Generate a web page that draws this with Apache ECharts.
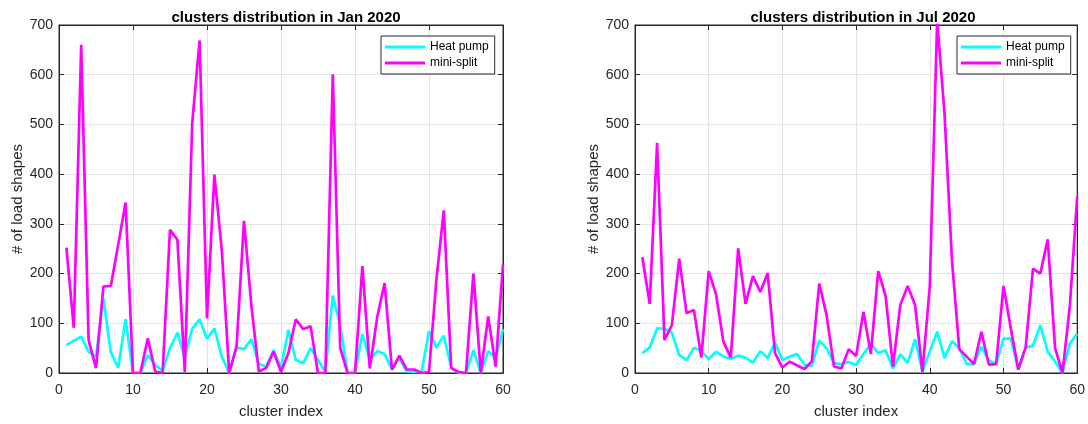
<!DOCTYPE html>
<html>
<head>
<meta charset="utf-8">
<script src="https://cdn.jsdelivr.net/npm/echarts@6/dist/echarts.min.js"></script>
<style>
html,body{margin:0;padding:0;background:#fff;}
#c{width:1088px;height:424px;}
</style>
</head>
<body>
<div id="c"></div>
<script>
var clusterIndex = [1,2,3,4,5,6,7,8,9,10,11,12,13,14,15,16,17,18,19,20,21,22,23,24,25,26,27,28,29,30,31,32,33,34,35,36,37,38,39,40,41,42,43,44,45,46,47,48,49,50,51,52,53,54,55,56,57,58,59,60];

var janHeatPump = [56,65,73,43,33,150,42,10,108,0,0,36,16,5,50,81,30,89,108,69,90,33,0,51,48,68,18,13,46,10,87,26,20,50,26,2,156,95,0,0,78,26,44,38,7,30,3,2,2,84,51,75,11,0,0,46,0,44,30,88];
var janMiniSplit = [252,91,660,66,10,174,175,258,343,0,0,70,3,0,288,268,2,502,669,110,399,247,0,54,306,135,3,10,43,2,40,108,88,94,0,0,601,50,0,0,215,9,112,181,7,35,7,7,0,2,188,327,10,2,0,200,0,114,13,218];

var julHeatPump = [40,51,90,89,81,36,26,51,44,28,43,33,28,35,31,21,44,30,61,26,33,38,16,15,65,50,20,18,22,16,38,59,40,46,9,38,20,68,3,43,83,30,64,50,18,18,53,26,18,69,69,7,51,55,96,43,23,0,59,79];
var julMiniSplit = [233,139,463,66,96,230,120,127,31,205,158,63,31,251,139,195,163,201,40,11,23,15,8,24,180,116,13,9,48,34,123,38,205,155,13,137,175,137,2,175,710,521,228,48,33,18,83,17,18,175,89,7,51,210,200,269,50,0,135,355];

var titles = ['clusters distribution in Jan 2020', 'clusters distribution in Jul 2020'];
var xTicks = [0,10,20,30,40,50,60];
var yTicks = [0,100,200,300,400,500,600,700];

function pairs(vals){ return clusterIndex.map(function(x,i){ return [x, vals[i]]; }); }

var axisColor = '#262626';
var fontFam = '"Liberation Sans", Arial, Helvetica, sans-serif';
var gridsPos = [{left:59, width:444}, {left:635, width:446}];
var plotTop = 25, plotHeight = 353;

var option = {
  animation:false,
  textStyle:{fontFamily:fontFam},
  title: gridsPos.map(function(g,k){
    return {text:titles[k], left:g.left+g.width/2, top:5, textAlign:'center',
      textStyle:{fontSize:15, fontWeight:'bold', color:'#000', fontFamily:fontFam}};
  }),
  grid: gridsPos.map(function(g){
    return {left:g.left, width:g.width, top:plotTop, height:plotHeight, show:true, borderColor:axisColor, borderWidth:1, backgroundColor:'#fff'};
  }),
  legend: gridsPos.map(function(g,k){
    return {orient:'vertical', left: (k===0?381:957), top:36, padding:[4,6,4,4], itemGap:2,
      itemWidth:40, itemHeight:3, icon:'rect', borderColor:axisColor, borderWidth:1, backgroundColor:'#fff',
      textStyle:{fontSize:12, lineHeight:14, color:'#000', fontFamily:fontFam}, itemStyle:{borderWidth:0},
      data:['Heat pump','mini-split']};
  }),
  xAxis: [], yAxis: [], series: []
};

[0,1].forEach(function(k){
  option.xAxis.push({type:'value', gridIndex:k, min:xTicks[0], max:xTicks[xTicks.length-1], interval:10, position:'bottom',
    name:'cluster index', nameLocation:'middle', nameGap:31, nameTextStyle:{fontSize:15, color:axisColor},
    axisLine:{show:true, onZero:false, lineStyle:{color:axisColor}},
    axisTick:{show:true, inside:true, length:5, lineStyle:{color:axisColor}},
    axisLabel:{show:true, fontSize:14, color:axisColor, margin:10},
    splitLine:{show:true, lineStyle:{color:'#e3e3e3', width:1}}});
  option.xAxis.push({type:'value', gridIndex:k, min:xTicks[0], max:xTicks[xTicks.length-1], interval:10, position:'top',
    axisLine:{show:true, onZero:false, lineStyle:{color:axisColor}},
    axisTick:{show:true, inside:true, length:5, lineStyle:{color:axisColor}},
    axisLabel:{show:false}, splitLine:{show:false}});
  option.yAxis.push({type:'value', gridIndex:k, min:yTicks[0], max:yTicks[yTicks.length-1], interval:100, position:'left',
    name:'# of load shapes', nameLocation:'middle', nameGap:(k===0?32:33), nameTextStyle:{fontSize:15, color:axisColor},
    axisLine:{show:true, onZero:false, lineStyle:{color:axisColor}},
    axisTick:{show:true, inside:true, length:5, lineStyle:{color:axisColor}},
    axisLabel:{show:true, fontSize:14, color:axisColor, margin:6},
    splitLine:{show:true, lineStyle:{color:'#e3e3e3', width:1}}});
  option.yAxis.push({type:'value', gridIndex:k, min:yTicks[0], max:yTicks[yTicks.length-1], interval:100, position:'right',
    axisLine:{show:true, onZero:false, lineStyle:{color:axisColor}},
    axisTick:{show:true, inside:true, length:5, lineStyle:{color:axisColor}},
    axisLabel:{show:false}, splitLine:{show:false}});
});

var sets = [[janHeatPump, janMiniSplit],[julHeatPump, julMiniSplit]];
[0,1].forEach(function(k){
  option.series.push({name:'Heat pump', type:'line', xAxisIndex:k*2, yAxisIndex:k*2, data:pairs(sets[k][0]),
    symbol:'none', clip:true, lineStyle:{color:'#00FFFF', width:2.7}, itemStyle:{color:'#00FFFF'}, z:2});
  option.series.push({name:'mini-split', type:'line', xAxisIndex:k*2, yAxisIndex:k*2, data:pairs(sets[k][1]),
    symbol:'none', clip:true, lineStyle:{color:'#FF00FF', width:2.7}, itemStyle:{color:'#FF00FF'}, z:3});
});

var chart = echarts.init(document.getElementById('c'), null, {renderer:'canvas'});
chart.setOption(option);
</script>
</body>
</html>
